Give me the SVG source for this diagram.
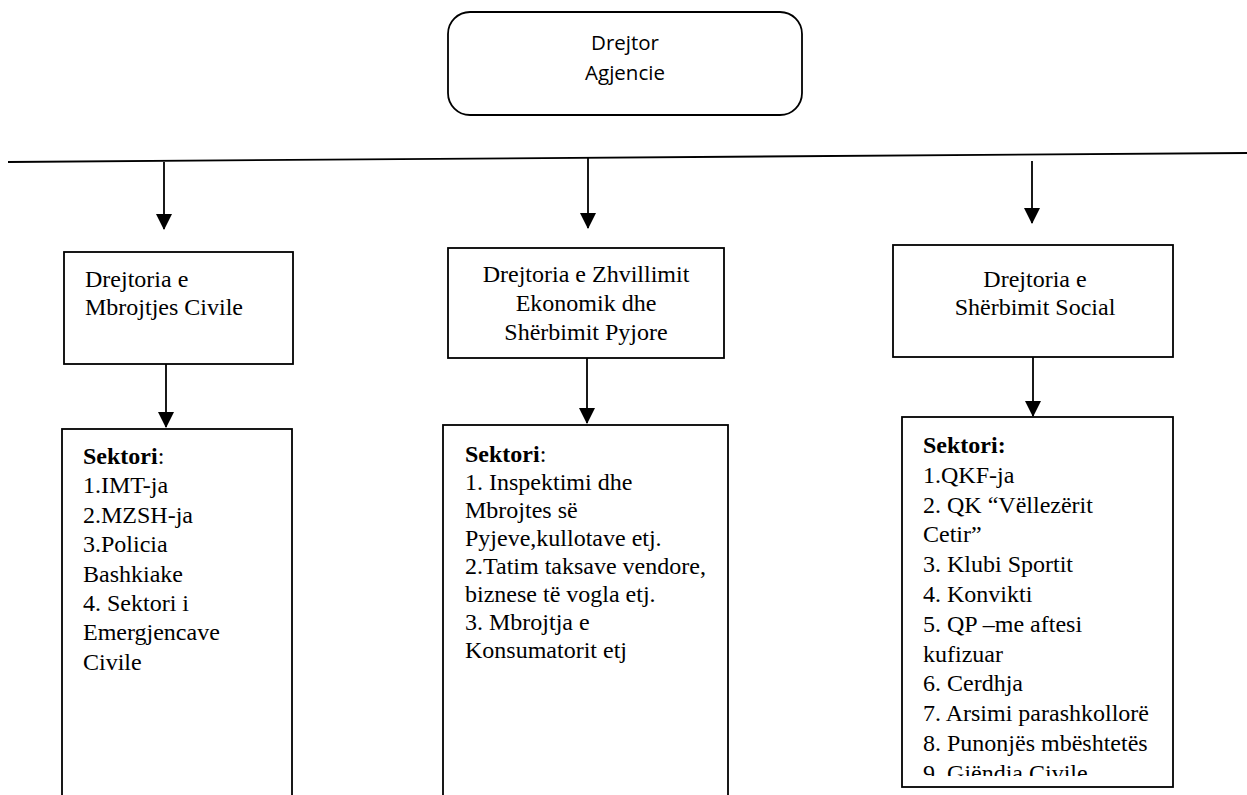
<svg xmlns="http://www.w3.org/2000/svg" width="1247" height="795" viewBox="0 0 1247 795">
<style>
.box{fill:#fff;stroke:#000;stroke-width:1.8}
.ln{stroke:#000;stroke-width:1.8;fill:none}
.t{font-family:'Liberation Serif','Times New Roman','DejaVu Serif',serif;font-size:24px;fill:#000}
.s{font-family:'Open Sans','Liberation Sans',sans-serif;font-size:20.5px;fill:#000}
.b{font-weight:bold}
</style>
<defs>
<clipPath id="clipR"><rect x="902" y="417" width="271" height="359"/></clipPath>
</defs>
<rect width="1247" height="795" fill="#fff"/>

<g id="connectors">
<line class="ln" x1="8" y1="162" x2="1247" y2="153"/>
<path d="M164,162 V229" class="ln"/><path d="M156,214 L172,214 L164,230 Z"/>
<path d="M588,157 V228" class="ln"/><path d="M580,213 L596,213 L588,229 Z"/>
<path d="M1032,161 V223" class="ln"/><path d="M1024,208 L1040,208 L1032,224 Z"/>
<path d="M166,364 V427" class="ln"/><path d="M158,412 L174,412 L166,428 Z"/>
<path d="M587,358 V423" class="ln"/><path d="M579,408 L595,408 L587,424 Z"/>
<path d="M1033,357 V416" class="ln"/><path d="M1025,401 L1041,401 L1033,417 Z"/>
</g>

<g id="drejtor">
<rect class="box" x="448" y="12" width="354" height="103" rx="22" ry="22"/>
<text class="s" x="625" y="50" text-anchor="middle">Drejtor</text>
<text class="s" x="625" y="80" text-anchor="middle">Agjencie</text>
</g>

<g id="dir-mbrojtje" font-family="Liberation Serif, serif">
<rect class="box" x="64" y="252" width="229" height="112"/>
<text class="t" x="85" y="287">Drejtoria e</text>
<text class="t" x="85" y="315">Mbrojtjes Civile</text>
</g>

<g id="dir-zhvillim">
<rect class="box" x="448" y="248" width="276" height="110"/>
<text class="t" x="586" y="282" text-anchor="middle">Drejtoria e Zhvillimit</text>
<text class="t" x="586" y="311" text-anchor="middle">Ekonomik dhe</text>
<text class="t" x="586" y="340" text-anchor="middle">Shërbimit Pyjore</text>
</g>

<g id="dir-social">
<rect class="box" x="893" y="245" width="280" height="112"/>
<text class="t" x="1035" y="287" text-anchor="middle">Drejtoria e</text>
<text class="t" x="1035" y="315" text-anchor="middle">Shërbimit Social</text>
</g>

<g id="sektori-mbrojtje">
<rect class="box" x="62" y="429" width="230" height="372"/>
<text class="t" x="83" y="464"><tspan class="b">Sektori</tspan>:</text>
<text class="t" x="83" y="493.4">1.IMT-ja</text>
<text class="t" x="83" y="522.8">2.MZSH-ja</text>
<text class="t" x="83" y="552.2">3.Policia</text>
<text class="t" x="83" y="581.6">Bashkiake</text>
<text class="t" x="83" y="611">4. Sektori i</text>
<text class="t" x="83" y="640.4">Emergjencave</text>
<text class="t" x="83" y="669.8">Civile</text>
</g>

<g id="sektori-zhvillim">
<rect class="box" x="443" y="425" width="285" height="376"/>
<text class="t" x="465" y="462"><tspan class="b">Sektori</tspan>:</text>
<text class="t" x="465" y="490">1. Inspektimi dhe</text>
<text class="t" x="465" y="518">Mbrojtes së</text>
<text class="t" x="465" y="546">Pyjeve,kullotave etj.</text>
<text class="t" x="465" y="574">2.Tatim taksave vendore,</text>
<text class="t" x="465" y="602">biznese të vogla etj.</text>
<text class="t" x="465" y="630">3. Mbrojtja e</text>
<text class="t" x="465" y="658">Konsumatorit etj</text>
</g>

<g id="sektori-social">
<rect class="box" x="902" y="417" width="271" height="370"/>
<g clip-path="url(#clipR)">
<text class="t b" x="923" y="453">Sektori:</text>
<text class="t" x="923" y="482.8">1.QKF-ja</text>
<text class="t" x="923" y="512.6">2. QK “Vëllezërit</text>
<text class="t" x="923" y="542.4">Cetir”</text>
<text class="t" x="923" y="572.2">3. Klubi Sportit</text>
<text class="t" x="923" y="602">4. Konvikti</text>
<text class="t" x="923" y="631.8">5. QP –me aftesi</text>
<text class="t" x="923" y="661.6">kufizuar</text>
<text class="t" x="923" y="691.4">6. Cerdhja</text>
<text class="t" x="923" y="721.2">7. Arsimi parashkollorë</text>
<text class="t" x="923" y="751">8. Punonjës mbështetës</text>
<text class="t" x="923" y="780.8">9. Gjëndia Civile</text>
</g>
</g>
</svg>
